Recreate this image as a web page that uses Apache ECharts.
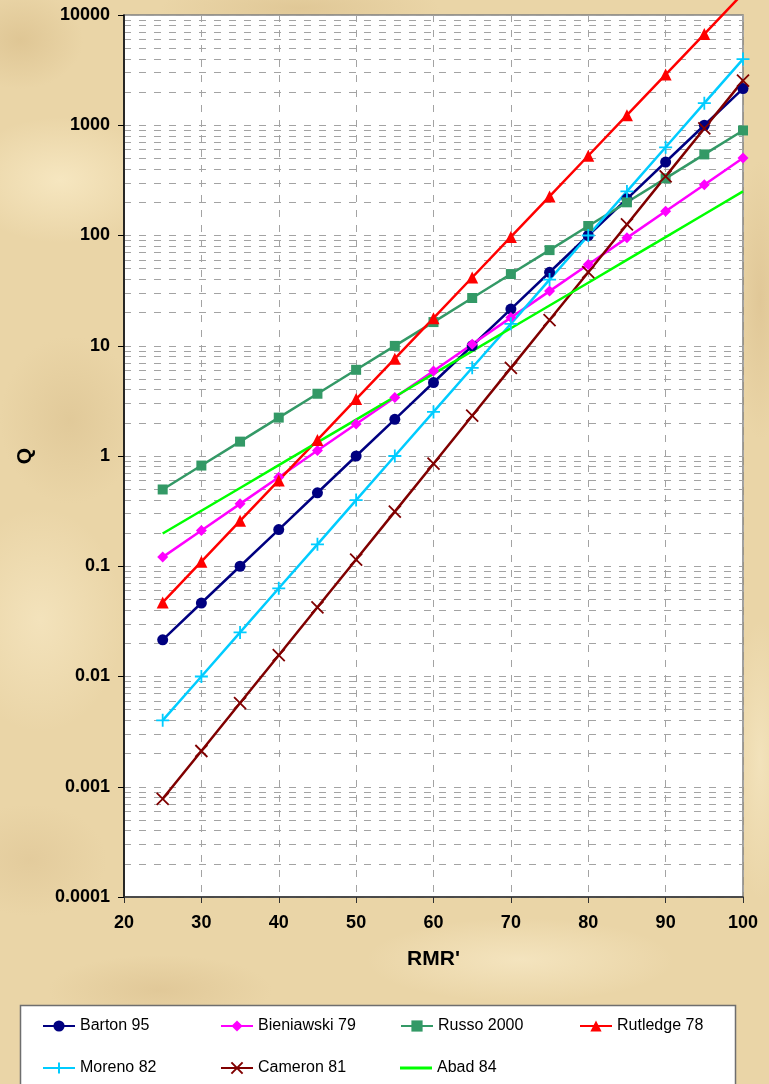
<!DOCTYPE html>
<html>
<head>
<meta charset="utf-8">
<title>Q vs RMR'</title>
<script src="https://cdn.jsdelivr.net/npm/echarts@6.0.0/dist/echarts.min.js"></script>
<style>
  html, body { margin: 0; padding: 0; }
  body {
    width: 769px; height: 1084px; overflow: hidden;
    background-color: #ead5a7;
    background-image:
      radial-gradient(ellipse 140px 90px at 60px 180px, rgba(250,236,200,0.75), rgba(250,236,200,0) 70%),
      radial-gradient(ellipse 120px 160px at 40px 620px, rgba(247,232,196,0.7), rgba(247,232,196,0) 70%),
      radial-gradient(ellipse 90px 70px at 20px 40px, rgba(214,186,134,0.55), rgba(214,186,134,0) 70%),
      radial-gradient(ellipse 100px 120px at 70px 420px, rgba(216,190,140,0.5), rgba(216,190,140,0) 70%),
      radial-gradient(ellipse 110px 80px at 30px 860px, rgba(220,194,146,0.5), rgba(220,194,146,0) 70%),
      radial-gradient(ellipse 200px 40px at 300px 8px, rgba(214,186,134,0.5), rgba(214,186,134,0) 70%),
      radial-gradient(ellipse 220px 60px at 520px 960px, rgba(248,234,200,0.7), rgba(248,234,200,0) 70%),
      radial-gradient(ellipse 160px 50px at 160px 990px, rgba(216,188,138,0.5), rgba(216,188,138,0) 70%),
      radial-gradient(ellipse 40px 200px at 760px 300px, rgba(216,188,138,0.55), rgba(216,188,138,0) 70%),
      radial-gradient(ellipse 40px 200px at 760px 760px, rgba(246,232,196,0.7), rgba(246,232,196,0) 70%);
  }
  #chart { width: 769px; height: 1084px; }
</style>
</head>
<body>
<div id="chart"></div>
<script>
// RMR' values at which each correlation is evaluated
const rmr = [25, 30, 35, 40, 45, 50, 55, 60, 65, 70, 75, 80, 85, 90, 95, 100];

// Q values of each RMR'–Q correlation
const barton     = [0.0215, 0.0464, 0.1, 0.215, 0.464, 1, 2.15, 4.64, 10, 21.5, 46.4, 100, 215, 464, 1000, 2150];
const bieniawski = [0.121, 0.211, 0.368, 0.641, 1.12, 1.95, 3.39, 5.91, 10.3, 18.0, 31.3, 54.6, 95.2, 166, 289, 504];
const russo      = [0.497, 0.819, 1.35, 2.23, 3.67, 6.05, 9.97, 16.4, 27.1, 44.7, 73.7, 122, 200, 330, 544, 897];
const rutledge   = [0.047, 0.110, 0.258, 0.601, 1.40, 3.28, 7.64, 17.8, 41.6, 97.1, 226, 529, 1234, 2880, 6720, 15700];
const moreno     = [0.0040, 0.0100, 0.0251, 0.0631, 0.158, 0.398, 1.0, 2.51, 6.31, 15.8, 39.8, 100, 251, 631, 1585, 3981];
const cameron    = [0.000778, 0.00211, 0.00574, 0.0156, 0.0424, 0.115, 0.313, 0.852, 2.32, 6.30, 17.1, 46.5, 126, 344, 935, 2540];
const abad       = [0.198, 0.319, 0.513, 0.826, 1.33, 2.14, 3.45, 5.56, 8.94, 14.4, 23.2, 37.3, 60.1, 96.8, 156, 251];

const seriesNames = ['Barton 95', 'Bieniawski 79', 'Russo 2000', 'Rutledge 78', 'Moreno 82', 'Cameron 81', 'Abad 84'];

// Axis tick labels
const yTickLabels = ['0.0001', '0.001', '0.01', '0.1', '1', '10', '100', '1000', '10000'];
const xTickLabels = ['20', '30', '40', '50', '60', '70', '80', '90', '100'];

const FONT = '"Liberation Sans", Arial, Helvetica, sans-serif';
const PLUS = 'path://M0,5L10,5M5,0L5,10';
const CROSS = 'path://M0,0L10,10M0,10L10,0';

function lineSeries(name, values, color, symbol, size, stroked) {
  return {
    type: 'line',
    name: name,
    data: rmr.map((x, i) => [x, values[i]]),
    symbol: symbol,
    symbolSize: size,
    showSymbol: symbol !== 'none',
    clip: false,
    silent: true,
    animation: false,
    emphasis: { disabled: true },
    lineStyle: { color: color, width: 2.5 },
    itemStyle: stroked
      ? { color: color, borderColor: color, borderWidth: 1.8 }
      : { color: color, borderWidth: 0 }
  };
}

const series = [
  lineSeries(seriesNames[0], barton,     '#000080', 'circle',   11, false),
  lineSeries(seriesNames[1], bieniawski, '#ff00ff', 'diamond',  11, false),
  lineSeries(seriesNames[2], russo,      '#339966', 'rect',     10, false),
  lineSeries(seriesNames[3], rutledge,   '#ff0000', 'triangle', 12, false),
  lineSeries(seriesNames[4], moreno,     '#00ccff', PLUS,       13, true),
  lineSeries(seriesNames[5], cameron,    '#800000', CROSS,      12, true),
  lineSeries(seriesNames[6], abad,       '#00ff00', 'none',      0, false)
];

// Legend laid out as a 4-column table inside a white box
const legendCols = [42, 220, 400, 579];
const legendRows = [1018, 1060];
const legends = seriesNames.map((name, i) => {
  const isPlain = name === 'Abad 84';
  return {
    data: [name],
    left: legendCols[i % 4],
    top: legendRows[Math.floor(i / 4)],
    padding: 0,
    itemWidth: 32,
    itemHeight: isPlain ? 3 : 14,
    icon: isPlain ? 'rect' : undefined,
    itemGap: 0,
    selectedMode: false,
    textStyle: { fontSize: 16, color: '#000', fontFamily: FONT }
  };
});

const gridLine = { color: '#a3a3a3', width: 1, type: [7, 8] };

const option = {
  animation: false,
  backgroundColor: 'transparent',
  textStyle: { fontFamily: FONT },
  grid: {
    left: 124, right: 26, top: 15, bottom: 187,
    show: true, backgroundColor: '#ffffff',
    borderColor: '#808080', borderWidth: 1.5
  },
  graphic: [{
    type: 'rect',
    z: 0,
    shape: { x: 20.5, y: 1005.5, width: 715, height: 100 },
    style: { fill: '#ffffff', stroke: '#6e6e6e', lineWidth: 1.5 }
  }],
  legend: legends,
  xAxis: {
    type: 'value',
    min: 20, max: 100, interval: 10,
    name: "RMR'",
    nameLocation: 'middle',
    nameGap: 52,
    nameTextStyle: { fontSize: 21, fontWeight: 'bold', color: '#000', fontFamily: FONT },
    axisLine: { lineStyle: { color: '#303030', width: 1.5 } },
    axisTick: { show: true, length: 6, lineStyle: { color: '#303030', width: 1 } },
    axisLabel: {
      margin: 17, fontSize: 18, fontWeight: 'bold', color: '#000', fontFamily: FONT,
      formatter: v => xTickLabels[Math.round((v - 20) / 10)]
    },
    splitLine: { show: true, lineStyle: gridLine }
  },
  yAxis: {
    type: 'log',
    logBase: 10,
    min: 0.0001, max: 10000,
    splitNumber: 8,
    name: 'Q',
    nameLocation: 'middle',
    nameGap: 88,
    nameTextStyle: { fontSize: 21, fontWeight: 'bold', color: '#000', fontFamily: FONT },
    axisLine: { show: true, onZero: false, lineStyle: { color: '#000', width: 1.5 } },
    axisTick: { show: true, length: 6, lineStyle: { color: '#000', width: 1 } },
    axisLabel: {
      margin: 14, fontSize: 18, fontWeight: 'bold', color: '#000', fontFamily: FONT,
      formatter: v => yTickLabels[Math.round(Math.log10(v)) + 4]
    },
    splitLine: { show: true, lineStyle: gridLine },
    minorTick: { show: false, splitNumber: 9 },
    minorSplitLine: { show: true, lineStyle: gridLine }
  },
  series: series
};

const chart = echarts.init(document.getElementById('chart'), null, { renderer: 'canvas' });
chart.setOption(option);
</script>
</body>
</html>
